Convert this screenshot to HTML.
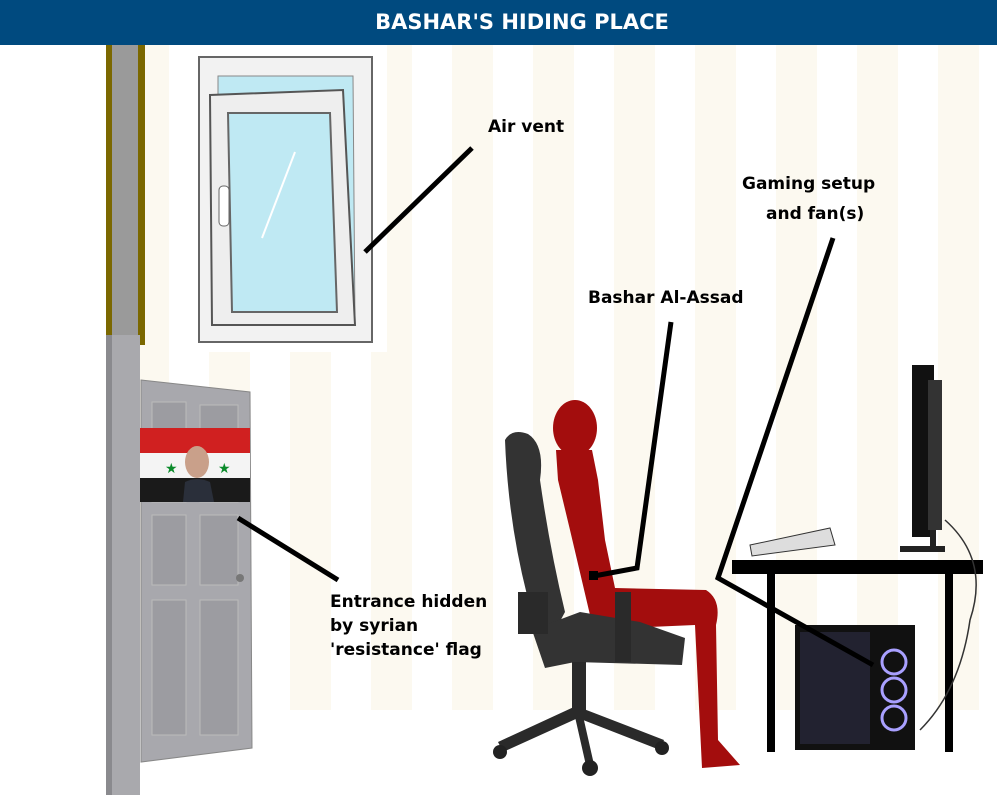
<!DOCTYPE html>
<html><head><meta charset="utf-8"><style>
html,body{margin:0;padding:0;width:997px;height:795px;overflow:hidden;background:#fff}
.t{font-family:"DejaVu Sans","Liberation Sans",sans-serif;font-weight:bold;font-size:17px;fill:#000}
</style></head><body>
<svg width="997" height="795" viewBox="0 0 997 795" xmlns="http://www.w3.org/2000/svg">
<defs>
<pattern id="st" x="47" y="0" width="81" height="10" patternUnits="userSpaceOnUse">
<rect x="0" y="0" width="41" height="10" fill="#fcf9f0"/>
</pattern>
</defs>
<rect x="140" y="45" width="857" height="665" fill="url(#st)"/>
<rect x="0" y="0" width="997" height="45" fill="#004a7f"/>
<text x="522" y="29" text-anchor="middle" font-family="DejaVu Sans,Liberation Sans,sans-serif" font-weight="bold" font-size="21" fill="#fff">BASHAR'S HIDING PLACE</text>
<rect x="106" y="45" width="39" height="300" fill="#7b6800"/>
<rect x="112" y="45" width="26" height="300" fill="#9a9a9a"/>
<rect x="106" y="335" width="34" height="460" fill="#a9a9ad"/>
<rect x="106" y="335" width="6" height="460" fill="#8a8a8e"/>
<rect x="188" y="45" width="199" height="307" fill="#fff"/>
<rect x="199" y="57" width="173" height="285" fill="#f2f2f2" stroke="#666" stroke-width="2"/>
<polygon points="218,76 353,76 355,325 218,325" fill="#bfe9f3" stroke="#888"/>
<polygon points="210,95 343,90 355,325 212,325" fill="#eee" stroke="#555" stroke-width="2"/>
<polygon points="228,113 330,113 337,312 232,312" fill="#bfe9f3" stroke="#666" stroke-width="2"/>
<rect x="219" y="186" width="10" height="40" rx="4" fill="#fff" stroke="#666"/>
<line x1="262" y1="238" x2="295" y2="152" stroke="#fff" stroke-width="2"/>
<polygon points="141,380 250,392 252,748 141,762" fill="#a8a8ad" stroke="#888"/>
<rect x="152" y="402" width="34" height="100" fill="#9c9ca1" stroke="#bbb"/>
<rect x="200" y="405" width="38" height="97" fill="#9c9ca1" stroke="#bbb"/>
<rect x="152" y="515" width="34" height="70" fill="#9c9ca1" stroke="#bbb"/>
<rect x="200" y="515" width="38" height="70" fill="#9c9ca1" stroke="#bbb"/>
<rect x="152" y="600" width="34" height="135" fill="#9c9ca1" stroke="#bbb"/>
<rect x="200" y="600" width="38" height="135" fill="#9c9ca1" stroke="#bbb"/>
<circle cx="240" cy="578" r="4" fill="#777"/>
<rect x="140" y="428" width="110" height="25" fill="#d02020"/>
<rect x="140" y="453" width="110" height="25" fill="#f4f4f4"/>
<rect x="140" y="478" width="110" height="24" fill="#1a1a1a"/>
<text x="165" y="473" font-size="14" fill="#0a8a2a">★</text>
<text x="218" y="473" font-size="14" fill="#0a8a2a">★</text>
<ellipse cx="197" cy="462" rx="12" ry="16" fill="#c9a08a"/>
<path d="M183,502 L185,482 Q197,476 210,482 L214,502 Z" fill="#2a2f3a"/>
<ellipse cx="575" cy="428" rx="22" ry="28" fill="#a30d0d"/>
<path d="M556,450 L592,450 L598,480 L605,540 L615,588 L706,590 Q722,600 716,625 L718,740 L740,765 L702,768 L695,625 L625,628 Q600,625 590,615 L570,530 L558,480 Z" fill="#a30d0d"/>
<path d="M505,440 Q512,428 528,434 Q545,445 540,480 Q550,550 565,612 L550,640 Q535,625 527,595 Q508,520 505,440 Z" fill="#333"/>
<path d="M532,630 L580,612 L640,622 L685,638 L682,665 L575,662 L545,668 Z" fill="#333"/>
<rect x="518" y="592" width="30" height="42" fill="#2a2a2a"/>
<rect x="615" y="592" width="16" height="70" fill="#2a2a2a"/>
<rect x="572" y="662" width="14" height="48" fill="#2a2a2a"/>
<path d="M498,742 L576,706 L664,740 L660,750 L578,718 L503,752 Z" fill="#2a2a2a"/>
<line x1="578" y1="712" x2="590" y2="765" stroke="#2a2a2a" stroke-width="8"/>
<circle cx="500" cy="752" r="7" fill="#222"/><circle cx="590" cy="768" r="8" fill="#222"/><circle cx="662" cy="748" r="7" fill="#222"/>
<rect x="732" y="560" width="251" height="14" fill="#000"/>
<rect x="767" y="574" width="8" height="178" fill="#000"/>
<rect x="945" y="574" width="8" height="178" fill="#000"/>
<rect x="795" y="625" width="120" height="125" fill="#111"/>
<rect x="800" y="632" width="70" height="112" fill="#222230"/>
<circle cx="894" cy="662" r="12" fill="none" stroke="#a9a0ff" stroke-width="3"/>
<circle cx="894" cy="690" r="12" fill="none" stroke="#a9a0ff" stroke-width="3"/>
<circle cx="894" cy="718" r="12" fill="none" stroke="#a9a0ff" stroke-width="3"/>
<polygon points="750,545 830,528 835,545 752,556" fill="#ddd" stroke="#333"/>
<rect x="912" y="365" width="22" height="172" fill="#111"/>
<rect x="928" y="380" width="14" height="150" fill="#333"/>
<rect x="930" y="530" width="6" height="18" fill="#222"/>
<rect x="900" y="546" width="45" height="6" fill="#222"/>
<path d="M945,520 Q990,560 970,620 Q960,690 920,730" fill="none" stroke="#333" stroke-width="1.5"/>
<g stroke="#000" stroke-width="5" fill="none">
<line x1="472" y1="148" x2="365" y2="252"/>
<polyline points="671,322 637,568 594,576"/>
<polyline points="833,238 718,578 873,665"/>
<line x1="238" y1="518" x2="338" y2="580"/>
</g>
<rect x="589" y="571" width="9" height="9" fill="#000"/>
<text class="t" x="488" y="132">Air vent</text>
<text class="t" x="742" y="189">Gaming setup</text>
<text class="t" x="766" y="219">and fan(s)</text>
<text class="t" x="588" y="303">Bashar Al-Assad</text>
<text class="t" x="330" y="607">Entrance hidden</text>
<text class="t" x="330" y="631">by syrian</text>
<text class="t" x="330" y="655">'resistance' flag</text>
</svg>
</body></html>
